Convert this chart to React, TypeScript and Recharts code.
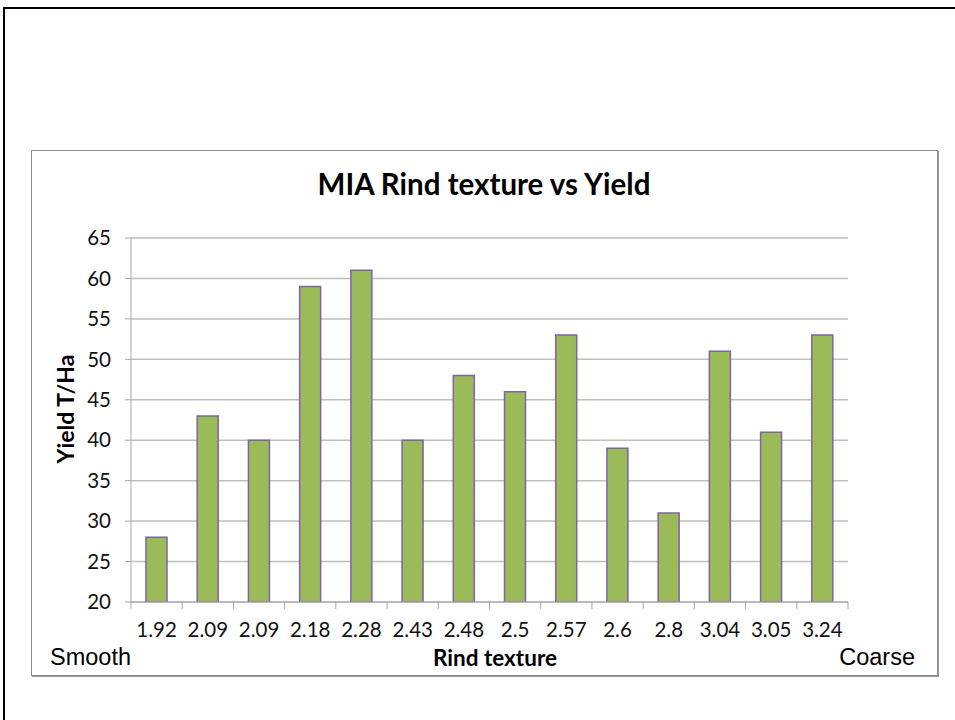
import React from "react"
import { BarChart, Bar, XAxis, YAxis, CartesianGrid } from "recharts"

// Rind texture scores (x) and yields in T/Ha (y)
const textures = ["1.92", "2.09", "2.09", "2.18", "2.28", "2.43", "2.48", "2.5", "2.57", "2.6", "2.8", "3.04", "3.05", "3.24"]
const yields = [28, 43, 40, 59, 61, 40, 48, 46, 53, 39, 31, 51, 41, 53]
const yTicks = [20, 25, 30, 35, 40, 45, 50, 55, 60, 65]

const data = textures.map((t, i) => ({ idx: i, texture: t, yield: yields[i] }))

const CHART_W = 905
const CHART_H = 524
const Y_AXIS_W = 99
const RIGHT = 89
const BAND = (CHART_W - Y_AXIS_W - RIGHT) / textures.length

const FONT = "Lato, 'Open Sans', sans-serif"

// tick label plus the small marks that sit between categories
const XTick = (props: any) => {
  const { x, y, payload } = props
  const i = payload.index
  return (
    <g>
      <line x1={x - BAND / 2} x2={x - BAND / 2} y1={y} y2={y + 7} stroke="#A6A6A6" />
      {i === textures.length - 1 && (
        <line x1={x + BAND / 2} x2={x + BAND / 2} y1={y} y2={y + 7} stroke="#A6A6A6" />
      )}
      <text x={x} y={y + 35} textAnchor="middle" fontFamily={FONT} fontSize={20.5} fill="#111">
        {textures[i]}
      </text>
    </g>
  )
}

export default function App() {
  return (
    <div style={{ position: "absolute", left: 0, top: 0, width: 955, height: 720, background: "#fff", overflow: "hidden" }}>
      {/* slide edge */}
      <div style={{ position: "absolute", left: 3, top: 7, width: 1000, height: 800, borderLeft: "2px solid #000", borderTop: "2px solid #000" }} />

      {/* chart frame */}
      <div
        style={{
          position: "absolute",
          left: 31,
          top: 150,
          width: CHART_W,
          height: CHART_H,
          border: "1px solid #8C8C8C",
          boxShadow: "1px 1px 0 #9A9A9A",
          background: "#fff",
        }}
      >
        <BarChart
          width={CHART_W}
          height={CHART_H}
          data={data}
          margin={{ top: 87, right: RIGHT, left: 0, bottom: 0 }}
          barCategoryGap={15}
        >
          <CartesianGrid stroke="#BFBFBF" strokeWidth={1.5} vertical={false} />
          <XAxis
            dataKey="idx"
            type="category"
            height={73}
            interval={0}
            tickLine={false}
            tickSize={0}
            tickMargin={0}
            stroke="#A6A6A6"
            tick={<XTick />}
          />
          <YAxis
            width={Y_AXIS_W}
            domain={[20, 65]}
            ticks={yTicks}
            allowDataOverflow
            stroke="#A6A6A6"
            tickSize={6}
            tickMargin={14}
            tick={{ fill: "#111", fontSize: 20.5, fontFamily: FONT }}
          />
          <Bar dataKey="yield" fill="#9BBB59" stroke="#7F63A8" strokeWidth={1.5} isAnimationActive={false} />
        </BarChart>
      </div>

      {/* titles and end labels */}
      <svg width={955} height={720} style={{ position: "absolute", left: 0, top: 0, pointerEvents: "none" }}>
        <text x={484} y={195} textAnchor="middle" fontFamily={FONT} fontWeight="bold" fontSize={29.5} fill="#000">
          MIA Rind texture vs Yield
        </text>
        <text x={495} y={666} textAnchor="middle" fontFamily={FONT} fontWeight="bold" fontSize={22.5} fill="#000">
          Rind texture
        </text>
        <text
          x={74}
          y={409}
          textAnchor="middle"
          transform="rotate(-90, 74, 409)"
          fontFamily={FONT}
          fontWeight="bold"
          fontSize={23}
          fill="#000"
        >
          Yield T/Ha
        </text>
        <text x={50} y={665} fontFamily="'Liberation Sans', Arial, sans-serif" fontSize={23.5} fill="#000">
          Smooth
        </text>
        <text x={915} y={665} textAnchor="end" fontFamily="'Liberation Sans', Arial, sans-serif" fontSize={23.5} fill="#000">
          Coarse
        </text>
      </svg>
    </div>
  )
}
